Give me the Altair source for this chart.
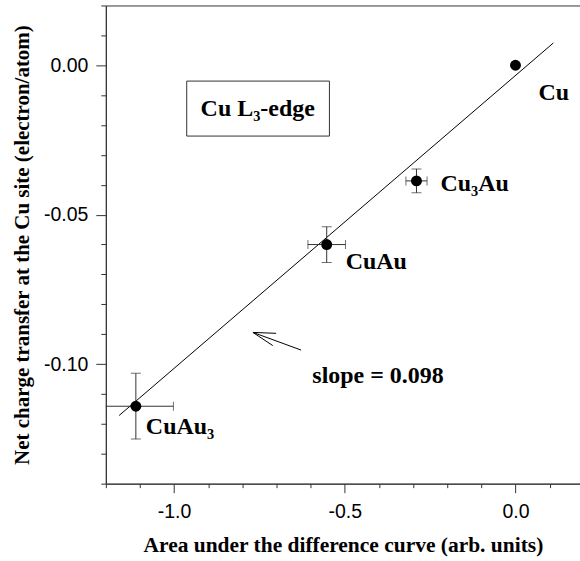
import altair as alt
import pandas as pd

# ---- data ----
names = ["Cu", "Cu₃Au", "CuAu", "CuAu₃"]
area = [0.0, -0.29, -0.553, -1.112]
charge = [0.0, -0.0387, -0.060, -0.1141]
area_err = [0.0, 0.031, 0.055, 0.11]
charge_err = [0.0, 0.004, 0.006, 0.011]

fit_x = [-1.161, 0.111]
fit_y = [-0.1172, 0.00745]

x_major = [-1.0, -0.5, 0.0]
x_minor = [-1.2, -1.1, -0.9, -0.8, -0.7, -0.6, -0.4, -0.3, -0.2, -0.1, 0.1]
y_major = [0.0, -0.05, -0.10]
y_minor = [0.02, 0.01, -0.01, -0.02, -0.03, -0.04, -0.06, -0.07, -0.08, -0.09,
           -0.11, -0.12, -0.13, -0.14]

box_x = [-0.963, -0.545]
box_y = [-0.0053, -0.0237]
box_label = "Cu L₃-edge"
box_label_pos = [-0.755, -0.0145]

arrow_from_x = [-0.628, -0.701, -0.711]
arrow_from_y = [-0.0953, -0.0897, -0.0938]
arrow_head = [-0.769, -0.0894]

slope_label = "slope = 0.098"
slope_pos = [-0.595, -0.1039]

# ---- tables ----
pts = pd.DataFrame({"name": names, "x": area, "y": charge,
                    "xe": area_err, "ye": charge_err})
pts["xlo"] = pts.x - pts.xe
pts["xhi"] = pts.x + pts.xe
pts["ylo"] = pts.y - pts.ye
pts["yhi"] = pts.y + pts.ye
errs = pts[pts.xe > 0]
fit = pd.DataFrame({"x": fit_x, "y": fit_y})
minor_x = pd.DataFrame({"x": x_minor})
arrow = pd.DataFrame({"x": arrow_from_x, "y": arrow_from_y,
                      "x2": [arrow_head[0]] * 3, "y2": [arrow_head[1]] * 3})
box = pd.DataFrame({"x": [box_x[0]], "x2": [box_x[1]], "y": [box_y[0]], "y2": [box_y[1]]})
box_txt = pd.DataFrame({"x": [box_label_pos[0]], "y": [box_label_pos[1]], "t": [box_label]})
slope_txt = pd.DataFrame({"x": [slope_pos[0]], "y": [slope_pos[1]], "t": [slope_label]})

AX = "#333333"
SERIF = "Liberation Serif"
SANS = "Liberation Sans"
FS = 24

xs = alt.Scale(domain=[-1.2, 0.189], nice=False, zero=False)
ys = alt.Scale(domain=[-0.14, 0.02], nice=False, zero=False)

x_major_axis = alt.Axis(values=x_major, orient="bottom", tickSize=9, tickColor=AX,
                        domainColor=AX, grid=False, labelFont=SANS, labelFontSize=19.5,
                        labelColor="black", labelPadding=10, labelFlush=False,
                        labelExpr="replace(format(datum.value, '.1f'), '\u2212', '-')",
                        title="Area under the difference curve (arb. units)",
                        titleFont=SERIF, titleFontSize=21.5, titleFontWeight="bold",
                        titleColor="black", titlePadding=13)
y_major_axis = alt.Axis(values=y_major, orient="left", tickSize=10, tickColor=AX,
                        domainColor=AX, grid=False, labelFont=SANS, labelFontSize=19.5,
                        labelColor="black", labelPadding=8, labelFlush=False,
                        labelExpr="replace(format(datum.value, '.2f'), '\u2212', '-')",
                        title="Net charge transfer at the Cu site (electron/atom)",
                        titleFont=SERIF, titleFontSize=21, titleFontWeight="bold",
                        titleColor="black", titlePadding=11)
x_minor_axis = alt.Axis(values=x_minor, orient="bottom", tickSize=4, tickColor=AX,
                        domain=False, labels=False, grid=False, title=None)
y_minor_axis = alt.Axis(values=y_minor, orient="left", tickSize=5, tickColor=AX,
                        domain=False, labels=False, grid=False, title=None)

line = alt.Chart(fit).mark_line(color="black", strokeWidth=1, clip=True).encode(
    x=alt.X("x:Q", scale=xs, axis=x_major_axis),
    y=alt.Y("y:Q", scale=ys, axis=y_major_axis),
)

minor = alt.Chart(minor_x).mark_point(opacity=0).encode(
    x=alt.X("x:Q", scale=xs, axis=x_minor_axis),
    y=alt.Y("y:Q", scale=ys, axis=y_minor_axis),
).transform_calculate(y="0")

hbar = alt.Chart(errs).mark_rule(color=AX, strokeWidth=1, clip=True).encode(
    x=alt.X("xlo:Q", scale=xs, axis=None), x2="xhi:Q",
    y=alt.Y("y:Q", scale=ys, axis=None))
vbar = alt.Chart(errs).mark_rule(color=AX, strokeWidth=1, clip=True).encode(
    x=alt.X("x:Q", scale=xs, axis=None),
    y=alt.Y("ylo:Q", scale=ys, axis=None), y2="yhi:Q")

vcap_lo = alt.Chart(errs).mark_tick(orient="horizontal", size=10, thickness=1,
                                    color=AX, clip=True).encode(
    x=alt.X("x:Q", scale=xs, axis=None), y=alt.Y("ylo:Q", scale=ys, axis=None))
vcap_hi = alt.Chart(errs).mark_tick(orient="horizontal", size=10, thickness=1,
                                    color=AX, clip=True).encode(
    x=alt.X("x:Q", scale=xs, axis=None), y=alt.Y("yhi:Q", scale=ys, axis=None))
hcap_lo = alt.Chart(errs).mark_tick(orient="vertical", size=9, thickness=1,
                                    color=AX, clip=True).encode(
    x=alt.X("xlo:Q", scale=xs, axis=None), y=alt.Y("y:Q", scale=ys, axis=None))
hcap_hi = alt.Chart(errs).mark_tick(orient="vertical", size=9, thickness=1,
                                    color=AX, clip=True).encode(
    x=alt.X("xhi:Q", scale=xs, axis=None), y=alt.Y("y:Q", scale=ys, axis=None))

dots = alt.Chart(pts).mark_circle(size=120, color="black", opacity=1).encode(
    x=alt.X("x:Q", scale=xs, axis=None), y=alt.Y("y:Q", scale=ys, axis=None))

offsets = {"Cu": (23, 28), "Cu₃Au": (24, 3), "CuAu": (19, 17), "CuAu₃": (10, 21)}
labels = []
for n, (ddx, ddy) in offsets.items():
    labels.append(
        alt.Chart(pts[pts.name == n]).mark_text(
            align="left", baseline="middle", dx=ddx, dy=ddy, font=SERIF,
            fontSize=FS, fontWeight="bold", color="black").encode(
            x=alt.X("x:Q", scale=xs, axis=None), y=alt.Y("y:Q", scale=ys, axis=None),
            text="name:N"))

boxm = alt.Chart(box).mark_rect(fill="white", stroke=AX, strokeWidth=1).encode(
    x=alt.X("x:Q", scale=xs, axis=None), x2="x2:Q",
    y=alt.Y("y:Q", scale=ys, axis=None), y2="y2:Q")
boxt = alt.Chart(box_txt).mark_text(align="center", baseline="middle", font=SERIF,
                                    fontSize=FS, fontWeight="bold", color="black").encode(
    x=alt.X("x:Q", scale=xs, axis=None), y=alt.Y("y:Q", scale=ys, axis=None), text="t:N")

arr = alt.Chart(arrow).mark_rule(color="black", strokeWidth=1).encode(
    x=alt.X("x:Q", scale=xs, axis=None), x2="x2:Q",
    y=alt.Y("y:Q", scale=ys, axis=None), y2="y2:Q")
slope = alt.Chart(slope_txt).mark_text(align="left", baseline="middle", font=SERIF,
                                       fontSize=FS, fontWeight="bold", color="black").encode(
    x=alt.X("x:Q", scale=xs, axis=None), y=alt.Y("y:Q", scale=ys, axis=None), text="t:N")

chart = alt.layer(
    line, minor, hbar, vbar, vcap_lo, vcap_hi, hcap_lo, hcap_hi, dots, *labels,
    boxm, boxt, arr, slope
).resolve_axis(x="independent", y="independent").properties(
    width=475, height=479,
    autosize=alt.AutoSizeParams(type="none"),
    padding={"left": 106, "top": 5, "right": 0, "bottom": 77},
    background="white",
).configure_view(stroke=AX, strokeWidth=1)

chart.save("out.html", embed_options={"renderer": "svg", "actions": False})
